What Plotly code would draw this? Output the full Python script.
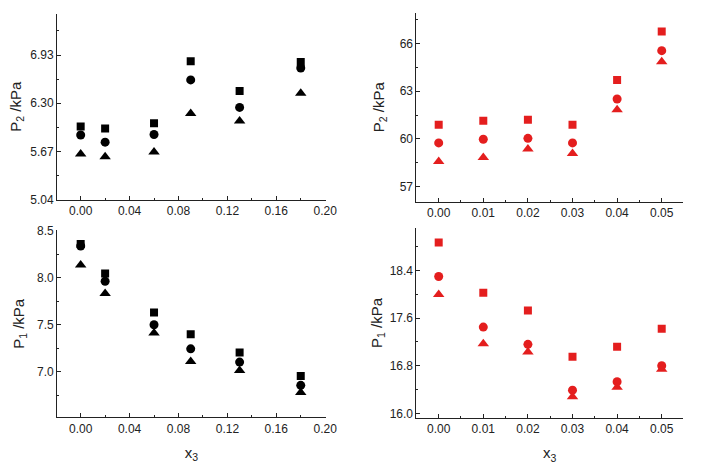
import plotly.graph_objects as go
from plotly.subplots import make_subplots

# ---- data ----
x_left = [0.00, 0.02, 0.06, 0.09, 0.13, 0.18]
x_right = [0.00, 0.01, 0.02, 0.03, 0.04, 0.05]

p2_left_sq = [5.995, 5.97, 6.037, 6.85, 6.46, 6.84]
p2_left_ci = [5.884, 5.79, 5.89, 6.605, 6.245, 6.76]
p2_left_tr = [5.634, 5.60, 5.66, 6.164, 6.067, 6.43]

p2_right_sq = [60.9, 61.15, 61.2, 60.9, 63.7, 66.76]
p2_right_ci = [59.75, 59.98, 60.04, 59.75, 62.51, 65.55]
p2_right_tr = [58.59, 58.84, 59.37, 59.08, 61.84, 64.86]

p1_left_sq = [8.358, 8.044, 7.629, 7.399, 7.206, 6.956]
p1_left_ci = [8.337, 7.962, 7.50, 7.244, 7.103, 6.856]
p1_left_tr = [8.134, 7.832, 7.412, 7.11, 7.013, 6.78]

p1_right_sq = [18.87, 18.025, 17.73, 16.95, 17.12, 17.42]
p1_right_ci = [18.30, 17.45, 17.16, 16.39, 16.53, 16.80]
p1_right_tr = [17.998, 17.17, 17.03, 16.28, 16.44, 16.74]

BLACK = "#000000"
RED = "#e41e1e"
FONT = "Liberation Sans, Arial, sans-serif"

fig = make_subplots(rows=2, cols=2)

def add_series(row, col, x, sq, ci, tr, color):
    for y, sym, size in [(sq, "square", 8), (ci, "circle", 9), (tr, "triangle-up", 10)]:
        fig.add_trace(go.Scatter(x=x, y=y, mode="markers",
                                 marker=dict(symbol=sym, size=size, color=color, line=dict(width=0)),
                                 showlegend=False), row=row, col=col)

add_series(1, 1, x_left, p2_left_sq, p2_left_ci, p2_left_tr, BLACK)
add_series(1, 2, x_right, p2_right_sq, p2_right_ci, p2_right_tr, RED)
add_series(2, 1, x_left, p1_left_sq, p1_left_ci, p1_left_tr, BLACK)
add_series(2, 2, x_right, p1_right_sq, p1_right_ci, p1_right_tr, RED)

axis_common = dict(showline=True, linecolor="#222", linewidth=1, ticks="inside", ticklen=4,
                   tickcolor="#222", showgrid=False, zeroline=False, mirror=False,
                   tickfont=dict(family=FONT, size=12, color="#222"))

xl = dict(range=[-0.0193, 0.2005], tick0=0, dtick=0.04, tickformat=".2f",
          minor=dict(ticks="inside", ticklen=2, dtick=0.02, tickcolor="#222"), **axis_common)
xr = dict(range=[-0.005, 0.0548], tick0=0, dtick=0.01, tickformat=".2f",
          minor=dict(ticks="inside", ticklen=2, dtick=0.005, tickcolor="#222"), **axis_common)

title_font = dict(family=FONT, size=15, color="#222")

fig.update_layout(
    width=702, height=474, margin=dict(l=0, r=0, t=0, b=0),
    paper_bgcolor="white", plot_bgcolor="white",
    xaxis=dict(domain=[0.0826, 0.4715], anchor="y", **xl),
    yaxis=dict(domain=[0.5802, 0.9831], anchor="x", range=[5.0395, 7.47], tick0=5.04, dtick=0.63,
               tickformat=".2f", minor=dict(ticks="inside", ticklen=2, dtick=0.315, tickcolor="#222"),
               title=dict(text="P<sub>2</sub> /kPa", font=title_font, standoff=5), **axis_common),
    xaxis2=dict(domain=[0.6026, 0.9886], anchor="y2", **xr),
    yaxis2=dict(domain=[0.5753, 0.9859], anchor="x2", range=[56.05, 67.95], tick0=57, dtick=3,
                tickformat="d", minor=dict(ticks="inside", ticklen=2, dtick=1.5, tickcolor="#222"),
                title=dict(text="P<sub>2</sub> /kPa", font=title_font, standoff=11), **axis_common),
    xaxis3=dict(domain=[0.0826, 0.4715], anchor="y3",
                title=dict(text="x<sub>3</sub>", font=title_font, standoff=12), **xl),
    yaxis3=dict(domain=[0.1076, 0.5137], anchor="x3", range=[6.515, 8.505], tick0=7.0, dtick=0.5,
                tickformat=".1f", minor=dict(ticks="inside", ticklen=2, dtick=0.25, tickcolor="#222"),
                title=dict(text="P<sub>1</sub> /kPa", font=title_font, standoff=8), **axis_common),
    xaxis4=dict(domain=[0.6026, 0.9886], anchor="y4",
                title=dict(text="x<sub>3</sub>", font=title_font, standoff=12), **xr),
    yaxis4=dict(domain=[0.1061, 0.519], anchor="x4", range=[15.92, 19.12], tick0=16.0, dtick=0.8,
                tickformat=".1f", minor=dict(ticks="inside", ticklen=2, dtick=0.4, tickcolor="#222"),
                title=dict(text="P<sub>1</sub> /kPa", font=title_font, standoff=3), **axis_common),
)

fig.write_html("out.html", config={"displayModeBar": False},
               post_script="document.body.style.margin='0';")
